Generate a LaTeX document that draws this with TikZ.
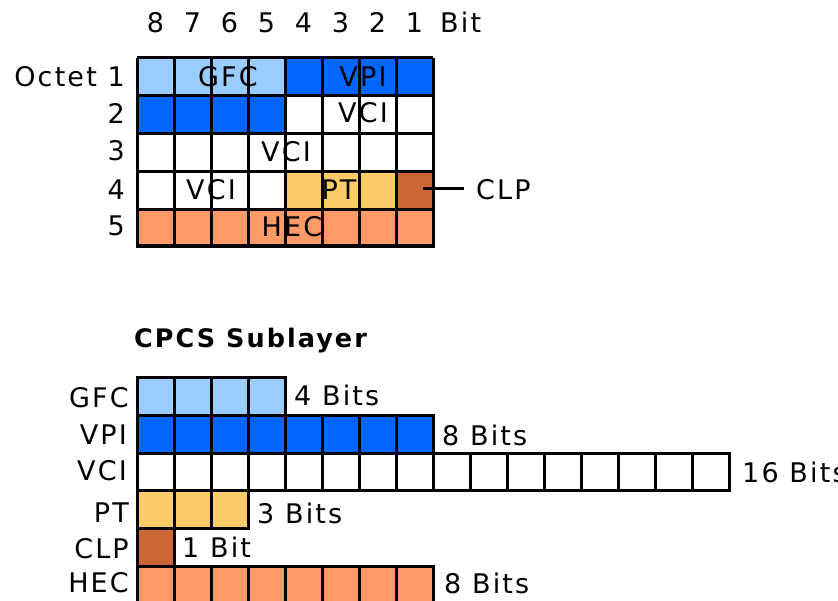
\documentclass[tikz,border=0pt]{standalone}
\usepackage{fontspec}
\setmainfont{DejaVu Sans}[LetterSpace=8]
\definecolor{lblue}{HTML}{99CCFF}
\definecolor{dblue}{HTML}{0066FF}
\definecolor{yell}{HTML}{FCCC66}
\definecolor{brownc}{HTML}{CC6633}
\definecolor{salmon}{HTML}{FF9966}
\begin{document}
\begin{tikzpicture}[x=1pt,y=-1pt,
  txt/.style={inner sep=0pt, font=\fontsize{27}{31}\selectfont},
  btxt/.style={inner sep=0pt, font=\fontsize{25.5}{30}\selectfont\bfseries},
  gridline/.style={draw=black, line width=3pt},
  cellbox/.style={draw=black, line width=3pt}]
\useasboundingbox (0,0) rectangle (838,601);
\clip (0,0) rectangle (838,601);
\fill[white] (0,0) rectangle (838,601);

% ---------- top header ----------
\foreach \d [count=\i from 0] in {8,7,6,5,4,3,2,1}
  \node[txt, anchor=base] (hd\d) at ({155.5+37*\i},33) {\d};
\node[txt, anchor=base west] (hbit) at (440,33) {Bit};

% ---------- top grid fills ----------
\fill[lblue]  (137,58)    rectangle (285,95.8);
\fill[dblue]  (285,58)    rectangle (433,95.8);
\fill[dblue]  (137,95.8)  rectangle (285,133.6);
\fill[yell]   (285,171.4) rectangle (396,209.2);
\fill[brownc] (396,171.4) rectangle (433,209.2);
\fill[salmon] (137,209.2) rectangle (433,247);

% grid lines
\foreach \c in {0,...,8}
  \draw[gridline] ({137+37*\c},58) -- ({137+37*\c},247);
\foreach \r in {0,...,4}
  \draw[gridline] (137,{58+37.8*\r}) -- (433,{58+37.8*\r});
\draw[draw=black, line width=4.5pt] (135.5,246) -- (434.5,246);

% row labels
\node[txt, anchor=base east] (oct1) at (125,87) {Octet 1};
\node[txt, anchor=base east] (oct2) at (125,124) {2};
\node[txt, anchor=base east] (oct3) at (125,161) {3};
\node[txt, anchor=base east] (oct4) at (125,200) {4};
\node[txt, anchor=base east] (oct5) at (125,236) {5};

% field labels in grid
\node[txt, anchor=base] (tgfc) at (228,87) {GFC};
\node[txt, anchor=base] (tvpi) at (363,87) {VPI};
\node[txt, anchor=base] (tvci2) at (363,123) {VCI};
\node[txt, anchor=base] (tvci3) at (286,162) {VCI};
\node[txt, anchor=base] (tvci4) at (211,200) {VCI};
\node[txt, anchor=base] (tpt) at (339,200) {PT};
\node[txt, anchor=base] (thec) at (292,237) {HEC};

% CLP pointer
\coordinate (clpcell) at (423,189);
\node[txt, anchor=base west] (tclp) at (476,200) {CLP};
\draw[line width=3pt] (clpcell) -- ([xshift=-12pt]tclp.west |- clpcell);

% ---------- CPCS sublayer ----------
\node[btxt, anchor=base west] (cpcs) at (134,348) {CPCS Sublayer};

\foreach \r/\n/\col in {0/4/lblue,1/8/dblue,2/16/white,3/3/yell,4/1/brownc,5/8/salmon}
  \foreach \c in {1,...,\n}
    \filldraw[cellbox, fill=\col] ({137+37*(\c-1)},{378+37.6*\r}) rectangle ++(37,37.6);

\node[txt, anchor=base east] (lgfc) at (129,408) {GFC};
\node[txt, anchor=base east] (lvpi) at (127,444) {VPI};
\node[txt, anchor=base east] (lvci) at (127,480) {VCI};
\node[txt, anchor=base east] (lpt)  at (129,522) {PT};
\node[txt, anchor=base east] (lclp) at (129,558) {CLP};
\node[txt, anchor=base east] (lhec) at (129,592) {HEC};

\node[txt, anchor=base west] (bgfc) at (294,406) {4 Bits};
\node[txt, anchor=base west] (bvpi) at (442,445) {8 Bits};
\node[txt, anchor=base west] (bvci) at (742,482) {16 Bits};
\node[txt, anchor=base west] (bpt)  at (257,523) {3 Bits};
\node[txt, anchor=base west] (bclp) at (182,557) {1 Bit};
\node[txt, anchor=base west] (bhec) at (444,593) {8 Bits};
\end{tikzpicture}
\end{document}
